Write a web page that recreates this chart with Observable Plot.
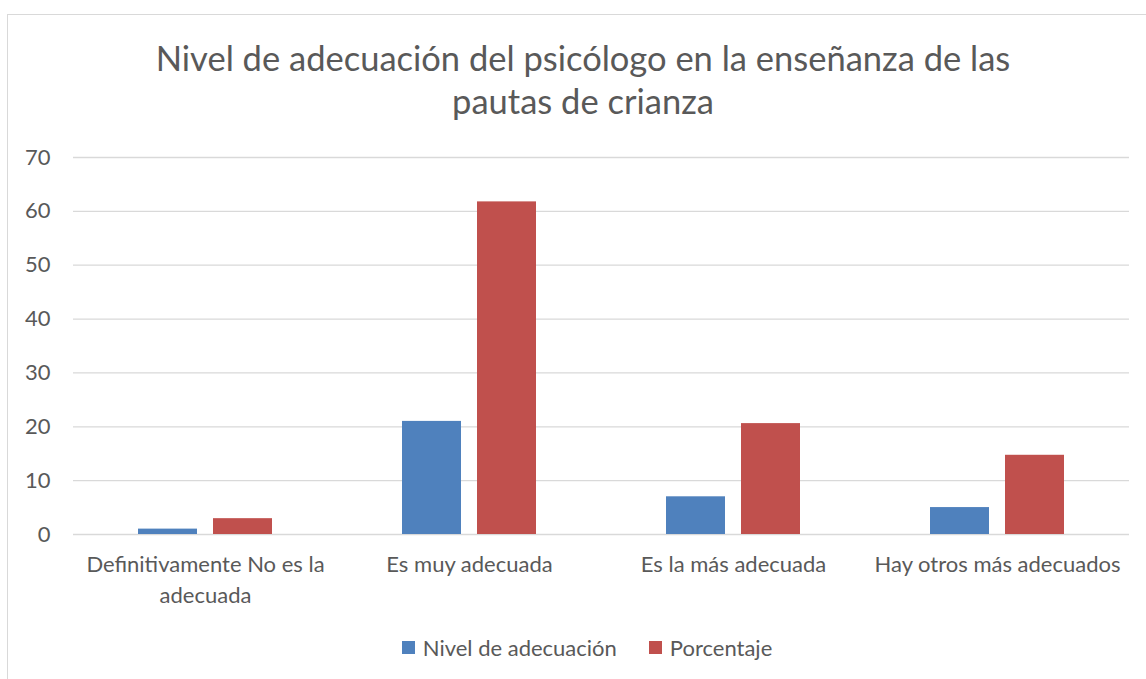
<!DOCTYPE html>
<html><head><meta charset="utf-8">
<script src="https://cdn.jsdelivr.net/npm/d3@7"></script>
<script src="https://cdn.jsdelivr.net/npm/@observablehq/plot@0.6"></script>
<style>
body{margin:0;background:#fff;font-family:Lato,sans-serif;color:#595959;overflow:hidden;}
#frame{position:absolute;left:7px;top:14px;width:1160px;height:700px;border:1px solid #d9d9d9;}
#title{position:absolute;left:0;width:1166px;top:36px;text-align:center;font-size:34.5px;line-height:43px;color:#595959;}
#chart{position:absolute;left:0;top:140px;}
#legend{position:absolute;left:0;width:1174px;top:634px;display:flex;justify-content:center;align-items:center;font-size:22px;color:#595959;}
.item{display:flex;align-items:center;margin:0 16px;}
.sw{width:13px;height:13px;margin-right:8px;}
</style></head>
<body>
<div id="frame"></div>
<div id="title">Nivel de adecuación del psicólogo en la enseñanza de las<br>pautas de crianza</div>
<div id="chart"></div>
<div id="legend"></div>
<script>
const categories = ["Definitivamente No es la adecuada","Es muy adecuada","Es la más adecuada","Hay otros más adecuados"];
const tickLabels = ["Definitivamente No es la\nadecuada","Es muy adecuada","Es la más adecuada","Hay otros más adecuados"];
const series = ["Nivel de adecuación","Porcentaje"];
const nivel = [1,21,7,5];
const porcentaje = [2.94,61.76,20.59,14.71];
const yTicks = [0,10,20,30,40,50,60,70];
const colors = ["#4f81bd","#c0504d"];

const data = [];
categories.forEach((c,i)=>{
  data.push({category:c, series:series[0], value:nivel[i]});
  data.push({category:c, series:series[1], value:porcentaje[i]});
});
const labelOf = new Map(categories.map((c,i)=>[c,tickLabels[i]]));

const chart = Plot.plot({
  width:1146, height:475, marginLeft:71, marginRight:16, marginTop:17, marginBottom:81,
  style:{fontFamily:"Lato, sans-serif", fontSize:"22px", color:"#595959", background:"transparent", overflow:"visible"},
  fx:{domain:categories, padding:0, label:null},
  x:{domain:series, paddingInner:0.21, paddingOuter:0.86, axis:null},
  y:{domain:[0,70], label:null},
  color:{domain:series, range:colors},
  marks:[
    Plot.gridY(yTicks,{stroke:"#d9d9d9", strokeOpacity:1, strokeWidth:1.3}),
    Plot.axisY(yTicks,{tickSize:0, tickPadding:23, label:null}),
    Plot.barY(data,{fx:"category", x:"series", y:"value", fill:"series"}),
    Plot.axisFx({anchor:"bottom", tickSize:0, tickPadding:16, label:null, lineHeight:1.4, tickFormat:d=>labelOf.get(d)})
  ]
});
document.getElementById("chart").appendChild(chart);

const legend = document.getElementById("legend");
series.forEach((s,i)=>{
  const it = document.createElement("div"); it.className="item";
  const sw = document.createElement("div"); sw.className="sw"; sw.style.background=colors[i];
  const tx = document.createElement("span"); tx.textContent=s;
  it.appendChild(sw); it.appendChild(tx); legend.appendChild(it);
});
</script>
</body></html>
